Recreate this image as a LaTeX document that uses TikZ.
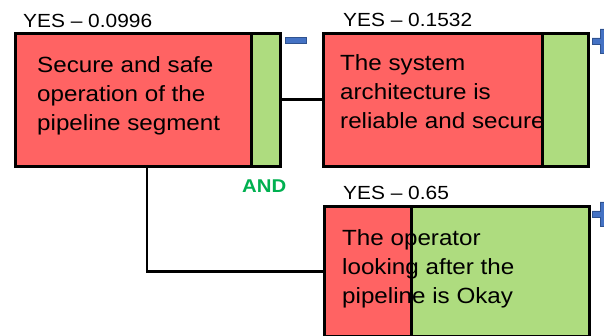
\documentclass[tikz,border=0pt]{standalone}
\usepackage{fontspec}
\setmainfont{Liberation Sans}[FakeStretch=1.1]
\definecolor{boxred}{RGB}{255,99,99}
\definecolor{boxgreen}{RGB}{174,220,127}
\definecolor{andgreen}{RGB}{0,176,80}
\definecolor{signblue}{RGB}{68,114,196}
\definecolor{signedge}{RGB}{47,82,143}
\tikzset{
  part/.style={draw=black, line width=2.8pt, rectangle, inner sep=0pt, anchor=north west},
  redpart/.style={part, fill=boxred},
  greenpart/.style={part, fill=boxgreen},
  link/.style={draw=black, line width=2.8pt},
  yeslabel/.style={anchor=base west, inner sep=0pt, font=\fontsize{19}{23}\selectfont},
  boxtext/.style={anchor=base west, inner sep=0pt, font=\fontsize{22}{29}\selectfont},
  sign/.style={fill=signblue, draw=signedge, line width=0.6pt}
}
\newcommand{\lines}[1]{\begin{tabular}[t]{@{}l@{}}#1\end{tabular}}
\begin{document}
\begin{tikzpicture}[x=1pt, y=-1pt]
\useasboundingbox (0,0) rectangle (604,336);

% box 1: safe operation of the segment
\node[redpart, minimum width=236pt, minimum height=133pt] (b1r) at (14,32) {};
\node[greenpart, minimum width=29pt, minimum height=133pt] (b1g) at (250,32) {};

% box 2: system architecture
\node[redpart, minimum width=219pt, minimum height=133pt] (b2r) at (322,32) {};
\node[greenpart, minimum width=46pt, minimum height=133pt] (b2g) at (541,32) {};

% box 3: operator
\node[redpart, minimum width=87pt, minimum height=130pt] (b3r) at (323,205) {};
\node[greenpart, minimum width=178pt, minimum height=130pt] (b3g) at (410,205) {};

% connectors
\coordinate (drop) at (147,165);
\draw[link] (b1g.east) -- (b2r.west);
\draw[link] (drop) |- (b3r.west);

% probability labels
\node[yeslabel] (y1) at (23,28) {YES – 0.0996};
\node[yeslabel] (y2) at (343,27) {YES – 0.1532};
\node[yeslabel] (y3) at (343,200) {YES – 0.65};

% box texts
\node[boxtext] (t1) at (37,73) {\lines{Secure and safe\\operation of the\\pipeline segment}};
\node[boxtext] (t2) at (340,71) {\lines{The system\\architecture is\\reliable and secure}};
\node[boxtext] (t3) at (342,246) {\lines{The operator\\looking after the\\pipeline is Okay}};

% gate label
\node[anchor=base west, inner sep=0pt, text=andgreen, font=\fontsize{18.5}{22}\selectfont\bfseries] (gate) at (242,193) {AND};

% collapse / expand signs
\path[sign] (285,37) rectangle (306,43);
\path[sign] (592,38) -- (600,38) -- (600,29) -- (606,29) -- (606,38) -- (615,38)
  -- (615,44) -- (606,44) -- (606,53) -- (600,53) -- (600,44) -- (592,44) -- cycle;
\path[sign] (592,211) -- (600,211) -- (600,202) -- (606,202) -- (606,211) -- (615,211)
  -- (615,217) -- (606,217) -- (606,226) -- (600,226) -- (600,217) -- (592,217) -- cycle;
\end{tikzpicture}
\end{document}
